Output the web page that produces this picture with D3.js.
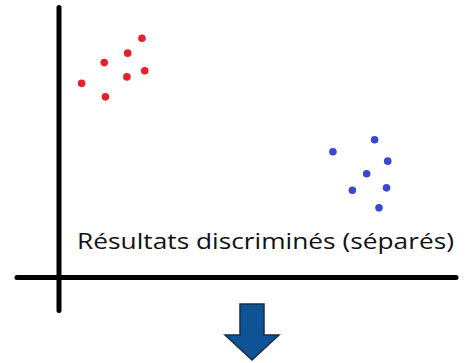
<!DOCTYPE html>
<html><head><meta charset="utf-8">
<script src="https://cdn.jsdelivr.net/npm/d3@7"></script>
<style>html,body{margin:0;padding:0;background:#fff;}svg{display:block;}</style>
</head><body>
<svg id="c" width="475" height="363"></svg>
<script>
const groupA_x = [20.9, 17.3, 11.4, 21.6, 17.1, 5.7, 11.7];
const groupA_y = [88.6, 83.1, 79.6, 76.6, 74.3, 71.9, 66.9];
const groupB_x = [79.5, 69.0, 82.8, 77.5, 73.9, 82.5, 80.6];
const groupB_y = [51.0, 46.6, 43.1, 38.4, 32.3, 33.2, 25.8];
const label = "Résultats discriminés (séparés)";

const svg = d3.select("#c");
const x = d3.scaleLinear().domain([0, 100]).range([59, 456]);
const y = d3.scaleLinear().domain([0, 100]).range([277.5, 7.5]);

// axes
svg.append("line").attr("x1", x(0)).attr("x2", x(0)).attr("y1", y(100)).attr("y2", y(0) + 33)
  .attr("stroke", "#000").attr("stroke-width", 5).attr("stroke-linecap", "round");
svg.append("line").attr("x1", x(0) - 42).attr("x2", x(100)).attr("y1", y(0)).attr("y2", y(0))
  .attr("stroke", "#000").attr("stroke-width", 5).attr("stroke-linecap", "round");

const A = groupA_x.map((v, i) => ({x: v, y: groupA_y[i]}));
const B = groupB_x.map((v, i) => ({x: v, y: groupB_y[i]}));
svg.selectAll("circle.a").data(A).join("circle").attr("class", "a")
  .attr("cx", d => x(d.x)).attr("cy", d => y(d.y)).attr("r", 3.8).attr("fill", "#e8202a");
svg.selectAll("circle.b").data(B).join("circle").attr("class", "b")
  .attr("cx", d => x(d.x)).attr("cy", d => y(d.y)).attr("r", 3.8).attr("fill", "#3a48cf");

svg.append("text").attr("x", 77).attr("y", 248.5).text(label)
  .attr("font-family", "'Open Sans', sans-serif").attr("font-size", 22).attr("fill", "#111")
  .attr("textLength", 377).attr("lengthAdjust", "spacingAndGlyphs");

// arrow
const ax = 252;
const arrow = [[ax-12, 304], [ax+12, 304], [ax+12, 335], [ax+27, 335], [ax, 360], [ax-27, 335], [ax-12, 335]];
svg.append("path").attr("d", d3.line()(arrow) + "Z")
  .attr("fill", "#0e5396").attr("stroke", "#1a2d4a").attr("stroke-width", 1.5);
</script>
</body></html>
